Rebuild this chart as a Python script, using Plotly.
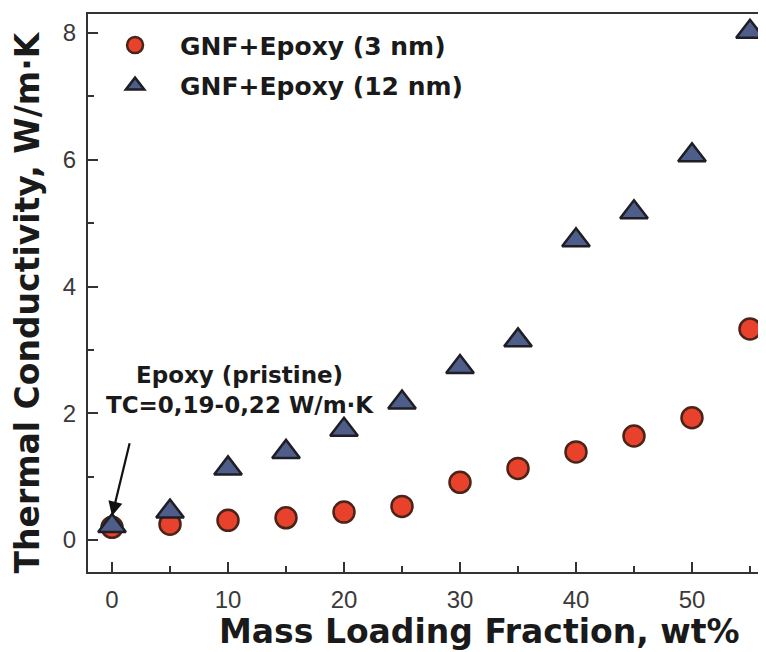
import plotly.graph_objects as go

loading = [0, 5, 10, 15, 20, 25, 30, 35, 40, 45, 50, 55]
tc_3nm = [0.20, 0.25, 0.31, 0.35, 0.44, 0.53, 0.91, 1.13, 1.39, 1.64, 1.93, 3.33]
tc_12nm = [0.22, 0.45, 1.13, 1.39, 1.74, 2.17, 2.73, 3.15, 4.73, 5.17, 6.07, 8.02]

x_ticks = [0, 10, 20, 30, 40, 50]
y_ticks = [0, 2, 4, 6, 8]

bold = "DejaVu Sans"
ink = "#1a1a1a"

fig = go.Figure()
fig.add_trace(go.Scatter(
    x=loading, y=tc_3nm, mode="markers", name="<b>GNF+Epoxy (3 nm)</b>",
    legendgroup="a",
    marker=dict(symbol="circle", size=21, color="#e8412c",
                line=dict(color="#4a2418", width=2.5)),
    cliponaxis=False))
fig.add_trace(go.Scatter(
    x=loading, y=tc_12nm, mode="markers", name="<b>GNF+Epoxy (12 nm)</b>",
    legendgroup="b",
    marker=dict(symbol="triangle-up", size=24, color="#4f5d8a",
                line=dict(color="#1e1e24", width=2.5)),
    cliponaxis=False))

fig.add_annotation(
    x=11.0, y=2.366, xref="x", yref="y",
    text="<b>Epoxy (pristine)</b><br><b>TC=0,19-0,22 W/m·K</b>",
    showarrow=False, align="center", borderpad=0,
    font=dict(family=bold, size=23, color=ink))
fig.add_annotation(
    x=0, y=0.38, xref="x", yref="y",
    ax=1.55, ay=1.55, axref="x", ayref="y",
    text="", showarrow=True, arrowhead=2, arrowsize=1.3,
    arrowwidth=2.2, arrowcolor="#111")
fig.add_annotation(
    x=0.571, y=-0.1075, xref="paper", yref="paper",
    xanchor="center", yanchor="middle", showarrow=False,
    text="<b>Mass Loading Fraction, wt%</b>",
    font=dict(family=bold, size=33, color=ink))
fig.add_annotation(
    x=-0.0889, y=0.483, xref="paper", yref="paper", textangle=-90,
    xanchor="center", yanchor="middle", showarrow=False,
    text="<b>Thermal Conductivity, W/m·K</b>",
    font=dict(family=bold, size=33, color=ink))

fig.update_layout(
    width=766, height=652,
    margin=dict(l=80, r=0, t=6, b=88),
    plot_bgcolor="white", paper_bgcolor="white",
    showlegend=True,
    legend=dict(x=0.003, y=0.985, xanchor="left", yanchor="top",
                bgcolor="rgba(0,0,0,0)", tracegroupgap=5, itemwidth=80,
                font=dict(family=bold, size=25, color=ink)),
    xaxis=dict(
        range=[-2.07, 57.07], tickvals=x_ticks, ticks="inside", ticklen=10,
        tickwidth=2, tickcolor="#333", automargin=False, ticklabelstandoff=5,
        minor=dict(dtick=5, tick0=0, ticks="inside", ticklen=6, tickwidth=2, tickcolor="#333"),
        showline=True, linecolor="#333", linewidth=2, mirror=True,
        showgrid=False, zeroline=False,
        tickfont=dict(family="Liberation Sans", size=24, color="#3a3a3a")),
    yaxis=dict(
        range=[-0.505, 8.3], tickvals=y_ticks, ticks="inside", ticklen=10,
        tickwidth=2, tickcolor="#333", automargin=False, ticklabelstandoff=5,
        minor=dict(dtick=1, tick0=0, ticks="inside", ticklen=6, tickwidth=2, tickcolor="#333"),
        showline=True, linecolor="#333", linewidth=2, mirror=False,
        showgrid=False, zeroline=False,
        tickfont=dict(family="Liberation Sans", size=24, color="#3a3a3a")),
)

fig.write_html("out.html")
